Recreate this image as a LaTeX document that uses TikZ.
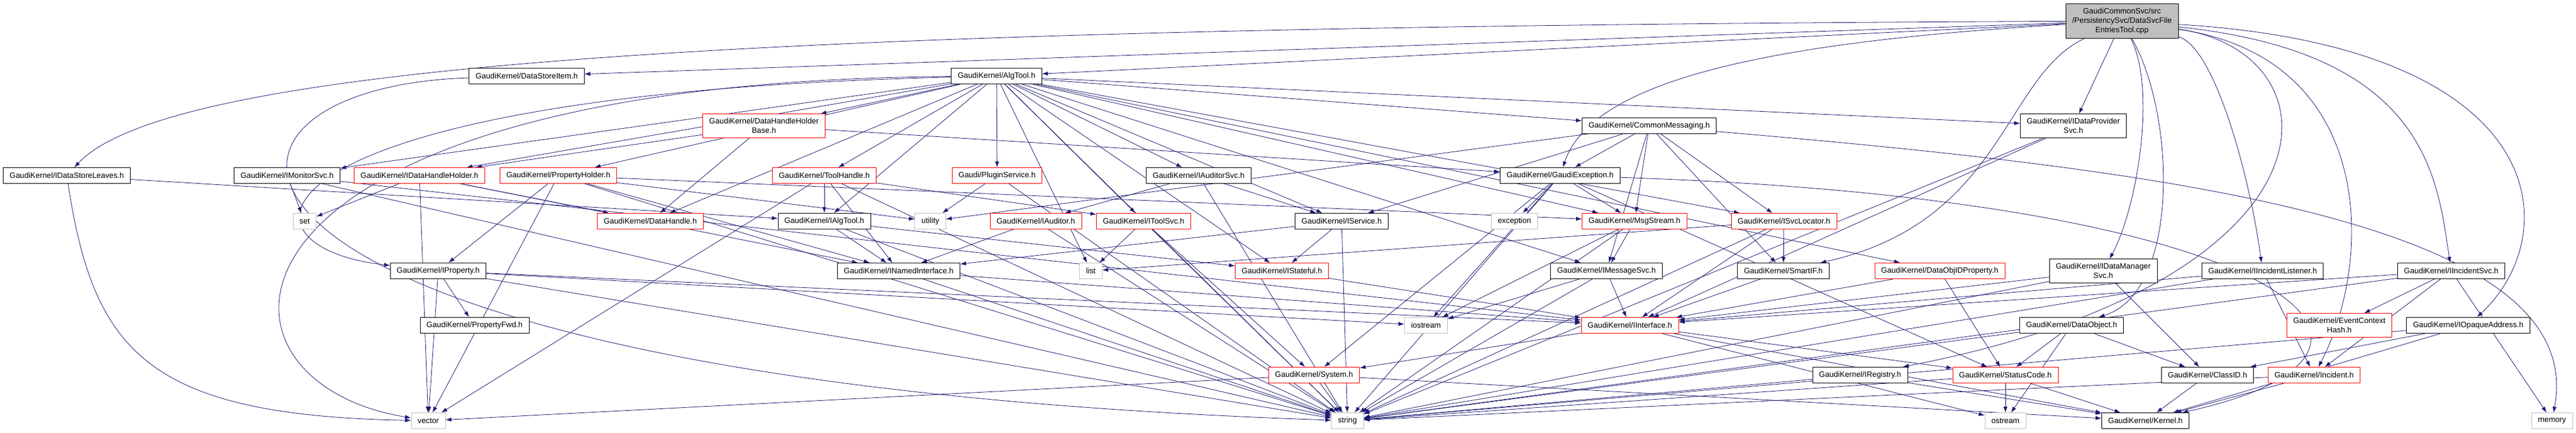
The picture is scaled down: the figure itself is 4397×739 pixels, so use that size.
\documentclass[tikz,border=0pt]{standalone}
\usepackage{fontspec}
\setmainfont{Liberation Sans}
\usepackage{tikz}
\usetikzlibrary{arrows.meta,backgrounds}

\definecolor{edgeblue}{HTML}{191970}
\definecolor{sysgray}{HTML}{BFBFBF}
\definecolor{truncred}{HTML}{FF0000}
\newcommand{\hdrfont}{\fontsize{13.3}{15.7}\selectfont}

\begin{document}
\begin{tikzpicture}[
    x=1pt, y=-1pt,
    hdr/.style={rectangle, draw=black, fill=white, line width=0.8pt, inner xsep=11pt, inner ysep=7.5pt, minimum height=27pt, align=center, font=\hdrfont},
    trunc/.style={hdr, draw=truncred},
    sys/.style={hdr, draw=sysgray},
    srcfile/.style={hdr, fill=sysgray},
    dep/.style={-{Latex[length=10pt,width=7pt]}, color=edgeblue, line width=0.8pt}
]
    \useasboundingbox (0,0) rectangle (4397,739);

    % source file
    \node[srcfile] (root) at (3622,36) {GaudiCommonSvc/src\\/PersistencySvc/DataSvcFile\\EntriesTool.cpp};

    % headers, top to bottom
    \node[hdr] (dsitem) at (899,130) {GaudiKernel/DataStoreItem.h};
    \node[hdr] (algtool) at (1701,130) {GaudiKernel/AlgTool.h};

    \node[trunc] (dhhbase) at (1304,215) {GaudiKernel/DataHandleHolder\\Base.h};
    \node[hdr] (cmsg) at (2815,215) {GaudiKernel/CommonMessaging.h};
    \node[hdr] (idps) at (3539,215) {GaudiKernel/IDataProvider\\Svc.h};

    \node[hdr] (idsl) at (114,300) {GaudiKernel/IDataStoreLeaves.h};
    \node[hdr] (imon) at (490,300) {GaudiKernel/IMonitorSvc.h};
    \node[trunc] (idhh) at (716,300) {GaudiKernel/IDataHandleHolder.h};
    \node[trunc] (propholder) at (953,300) {GaudiKernel/PropertyHolder.h};
    \node[trunc] (toolhandle) at (1407,300) {GaudiKernel/ToolHandle.h};
    \node[trunc] (plugin) at (1702,300) {Gaudi/PluginService.h};
    \node[hdr] (iaudsvc) at (2046,300) {GaudiKernel/IAuditorSvc.h};
    \node[hdr] (gexc) at (2663,300) {GaudiKernel/GaudiException.h};

    \node[sys] (set) at (520,378) {set};
    \node[trunc] (datahandle) at (1110,378) {GaudiKernel/DataHandle.h};
    \node[hdr] (ialgtool) at (1407,378) {GaudiKernel/IAlgTool.h};
    \node[sys] (utility) at (1588,378) {utility};
    \node[trunc] (iauditor) at (1768,378) {GaudiKernel/IAuditor.h};
    \node[trunc] (itoolsvc) at (1952,378) {GaudiKernel/IToolSvc.h};
    \node[hdr] (iservice) at (2290,378) {GaudiKernel/IService.h};
    \node[sys] (exception) at (2585,378) {exception};
    \node[trunc] (msgstream) at (2790,378) {GaudiKernel/MsgStream.h};
    \node[trunc] (isvcloc) at (3045,378) {GaudiKernel/ISvcLocator.h};

    \node[hdr] (iprop) at (748,463) {GaudiKernel/IProperty.h};
    \node[hdr] (inamed) at (1534,463) {GaudiKernel/INamedInterface.h};
    \node[sys] (list) at (1862,463) {list};
    \node[trunc] (istateful) at (2188,463) {GaudiKernel/IStateful.h};
    \node[hdr] (imsgsvc) at (2742,463) {GaudiKernel/IMessageSvc.h};
    \node[hdr] (smartif) at (3044,463) {GaudiKernel/SmartIF.h};
    \node[trunc] (dataobjid) at (3311,463) {GaudiKernel/DataObjIDProperty.h};
    \node[hdr] (idms) at (3590,463) {GaudiKernel/IDataManager\\Svc.h};
    \node[hdr] (iinclist) at (3862,463) {GaudiKernel/IIncidentListener.h};
    \node[hdr] (iincsvc) at (4184,463) {GaudiKernel/IIncidentSvc.h};

    \node[hdr] (propfwd) at (810,556) {GaudiKernel/PropertyFwd.h};
    \node[sys] (iostream) at (2434,556) {iostream};
    \node[trunc] (iinterface) at (2782,556) {GaudiKernel/IInterface.h};
    \node[hdr] (dataobject) at (3536,556) {GaudiKernel/DataObject.h};
    \node[trunc] (ech) at (3993,556) {GaudiKernel/EventContext\\Hash.h};
    \node[hdr] (iopaque) at (4213,556) {GaudiKernel/IOpaqueAddress.h};

    \node[trunc] (system) at (2243,641) {GaudiKernel/System.h};
    \node[hdr] (iregistry) at (3175,641) {GaudiKernel/IRegistry.h};
    \node[trunc] (statuscode) at (3423,641) {GaudiKernel/StatusCode.h};
    \node[hdr] (classid) at (3768,641) {GaudiKernel/ClassID.h};
    \node[trunc] (incident) at (3950,641) {GaudiKernel/Incident.h};

    \node[sys] (vector) at (731,719) {vector};
    \node[sys] (string) at (2300,719) {string};
    \node[sys] (ostream) at (3423,719) {ostream};
    \node[hdr] (kernel) at (3662,719) {GaudiKernel/Kernel.h};
    \node[sys] (memory) at (4356,719) {memory};

    \begin{scope}[on background layer]
    % includes of the source file
    \draw[dep] (root) -- (dsitem);
    \draw[dep] (root) -- (algtool);
    \draw[dep] (root) .. controls (1400,45) and (300,100) .. (idsl);
    \draw[dep] (root) .. controls (3050,70) and (2720,130) .. (gexc);
    \draw[dep] (root) -- (idps);
    \draw[dep] (root) .. controls (3420,130) and (3420,380) .. (smartif);
    \draw[dep] (root) .. controls (3680,150) and (3650,350) .. (idms);
    \draw[dep] (root) .. controls (3715,200) and (3720,500) .. (dataobject);
    \draw[dep] (root) .. controls (3780,80) and (3840,300) .. (iinclist);
    \draw[dep] (root) .. controls (4000,90) and (4010,480) .. (iregistry);
    \draw[dep] (root) .. controls (4060,100) and (4050,450) .. (incident);
    \draw[dep] (root) .. controls (4140,90) and (4160,300) .. (iincsvc);
    \draw[dep] (root) .. controls (4360,80) and (4380,400) .. (iopaque);

    \draw[dep] (dsitem) .. controls (250,150) and (260,650) .. (string);

    % AlgTool.h
    \draw[dep] (algtool) -- (imon);
    \draw[dep] (algtool) -- (idhh);
    \draw[dep] (algtool) -- (dhhbase);
    \draw[dep] (algtool) -- (propholder);
    \draw[dep] (algtool) .. controls (420,160) and (370,420) .. (iprop);
    \draw[dep] (algtool) .. controls (330,140) and (310,650) .. (vector);
    \draw[dep] (algtool) -- (datahandle);
    \draw[dep] (algtool) -- (toolhandle);
    \draw[dep] (algtool) -- (plugin);
    \draw[dep] (algtool) -- (ialgtool);
    \draw[dep] (algtool) -- (itoolsvc);
    \draw[dep] (algtool) -- (iaudsvc);
    \draw[dep] (algtool) -- (istateful);
    \draw[dep] (algtool) -- (iservice);
    \draw[dep] (algtool) -- (cmsg);
    \draw[dep] (algtool) -- (imsgsvc);
    \draw[dep] (algtool) -- (isvcloc);
    \draw[dep] (algtool) -- (dataobjid);
    \draw[dep] (algtool) -- (idps);
    \draw[dep] (algtool) -- (msgstream);
    \draw[dep] (algtool) -- (string);
    \draw[dep] (algtool) -- (list);

    \draw[dep] (idsl) .. controls (160,600) and (250,710) .. (vector);
    \draw[dep] (idsl) -- (ialgtool);

    \draw[dep] (imon) -- (set);
    \draw[dep] (imon) -- (iinterface);
    \draw[dep] (imon) -- (string);

    \draw[dep] (idhh) -- (set);
    \draw[dep] (idhh) -- (vector);
    \draw[dep] (idhh) -- (datahandle);
    \draw[dep] (idhh) -- (inamed);

    \draw[dep] (dhhbase) -- (idhh);
    \draw[dep] (dhhbase) -- (datahandle);
    \draw[dep] (dhhbase) -- (gexc);

    \draw[dep] (propholder) -- (iprop);
    \draw[dep] (propholder) -- (vector);
    \draw[dep] (propholder) -- (string);
    \draw[dep] (propholder) -- (inamed);
    \draw[dep] (propholder) -- (utility);
    \draw[dep] (propholder) -- (msgstream);

    \draw[dep] (toolhandle) -- (ialgtool);
    \draw[dep] (toolhandle) -- (itoolsvc);
    \draw[dep] (toolhandle) -- (inamed);
    \draw[dep] (toolhandle) -- (vector);
    \draw[dep] (toolhandle) -- (string);

    \draw[dep] (plugin) -- (utility);
    \draw[dep] (plugin) -- (string);

    \draw[dep] (iaudsvc) -- (iauditor);
    \draw[dep] (iaudsvc) -- (iservice);
    \draw[dep] (iaudsvc) -- (string);

    % GaudiException.h and CommonMessaging.h
    \draw[dep] (gexc) -- (exception);
    \draw[dep] (gexc) -- (msgstream);
    \draw[dep] (gexc) -- (system);
    \draw[dep] (gexc) -- (string);
    \draw[dep] (gexc) -- (iostream);
    \draw[dep] (gexc) .. controls (3900,340) and (4200,600) .. (kernel);
    \draw[dep] (gexc) -- (statuscode);

    \draw[dep] (cmsg) -- (gexc);
    \draw[dep] (cmsg) -- (iservice);
    \draw[dep] (cmsg) -- (msgstream);
    \draw[dep] (cmsg) -- (imsgsvc);
    \draw[dep] (cmsg) -- (isvcloc);
    \draw[dep] (cmsg) -- (smartif);
    \draw[dep] (cmsg) -- (utility);
    \draw[dep] (cmsg) .. controls (3700,290) and (4420,380) .. (memory);

    \draw[dep] (idps) -- (iinterface);
    \draw[dep] (idps) -- (string);

    \draw[dep] (ialgtool) -- (inamed);
    \draw[dep] (ialgtool) -- (istateful);
    \draw[dep] (ialgtool) -- (string);

    \draw[dep] (iauditor) -- (inamed);
    \draw[dep] (iauditor) -- (string);

    \draw[dep] (itoolsvc) -- (list);
    \draw[dep] (itoolsvc) -- (string);
    \draw[dep] (itoolsvc) -- (system);

    \draw[dep] (iservice) -- (inamed);
    \draw[dep] (iservice) -- (istateful);
    \draw[dep] (iservice) -- (string);

    \draw[dep] (msgstream) -- (imsgsvc);
    \draw[dep] (msgstream) -- (string);
    \draw[dep] (msgstream) -- (iostream);

    \draw[dep] (isvcloc) -- (smartif);
    \draw[dep] (isvcloc) -- (iinterface);
    \draw[dep] (isvcloc) -- (list);
    \draw[dep] (isvcloc) -- (string);

    \draw[dep] (iprop) -- (propfwd);
    \draw[dep] (iprop) -- (vector);
    \draw[dep] (iprop) -- (iinterface);
    \draw[dep] (iprop) -- (iostream);
    \draw[dep] (iprop) -- (string);

    \draw[dep] (inamed) -- (iinterface);
    \draw[dep] (inamed) -- (string);

    \draw[dep] (istateful) -- (iinterface);

    \draw[dep] (imsgsvc) -- (iostream);
    \draw[dep] (imsgsvc) -- (iinterface);
    \draw[dep] (imsgsvc) -- (string);

    \draw[dep] (smartif) -- (iinterface);

    \draw[dep] (dataobjid) -- (statuscode);
    \draw[dep] (dataobjid) -- (iinterface);

    \draw[dep] (idms) -- (iinterface);
    \draw[dep] (idms) -- (classid);
    \draw[dep] (idms) -- (string);

    \draw[dep] (iinclist) -- (iinterface);
    \draw[dep] (iinclist) -- (incident);
    \draw[dep] (iinclist) -- (string);

    \draw[dep] (iincsvc) -- (ech);
    \draw[dep] (iincsvc) -- (incident);
    \draw[dep] (iincsvc) -- (iinterface);
    \draw[dep] (iincsvc) -- (memory);
    \draw[dep] (iincsvc) -- (string);

    \draw[dep] (dataobject) -- (statuscode);
    \draw[dep] (dataobject) -- (classid);
    \draw[dep] (dataobject) -- (string);
    \draw[dep] (dataobject) -- (ostream);

    \draw[dep] (iopaque) -- (classid);
    \draw[dep] (iopaque) -- (kernel);
    \draw[dep] (iopaque) -- (string);

    % bottom rows
    \draw[dep] (iinterface) -- (system);
    \draw[dep] (iinterface) -- (statuscode);
    \draw[dep] (iinterface) -- (ostream);
    \draw[dep] (iinterface) -- (kernel);

    \draw[dep] (system) -- (string);
    \draw[dep] (system) -- (vector);
    \draw[dep] (system) -- (kernel);

    \draw[dep] (iregistry) -- (string);
    \draw[dep] (iregistry) -- (kernel);

    \draw[dep] (statuscode) -- (ostream);
    \draw[dep] (statuscode) -- (kernel);
    \draw[dep] (statuscode) -- (string);

    \draw[dep] (classid) -- (kernel);

    \draw[dep] (incident) -- (kernel);
    \draw[dep] (incident) -- (string);
    \end{scope}

\end{tikzpicture}
\end{document}
